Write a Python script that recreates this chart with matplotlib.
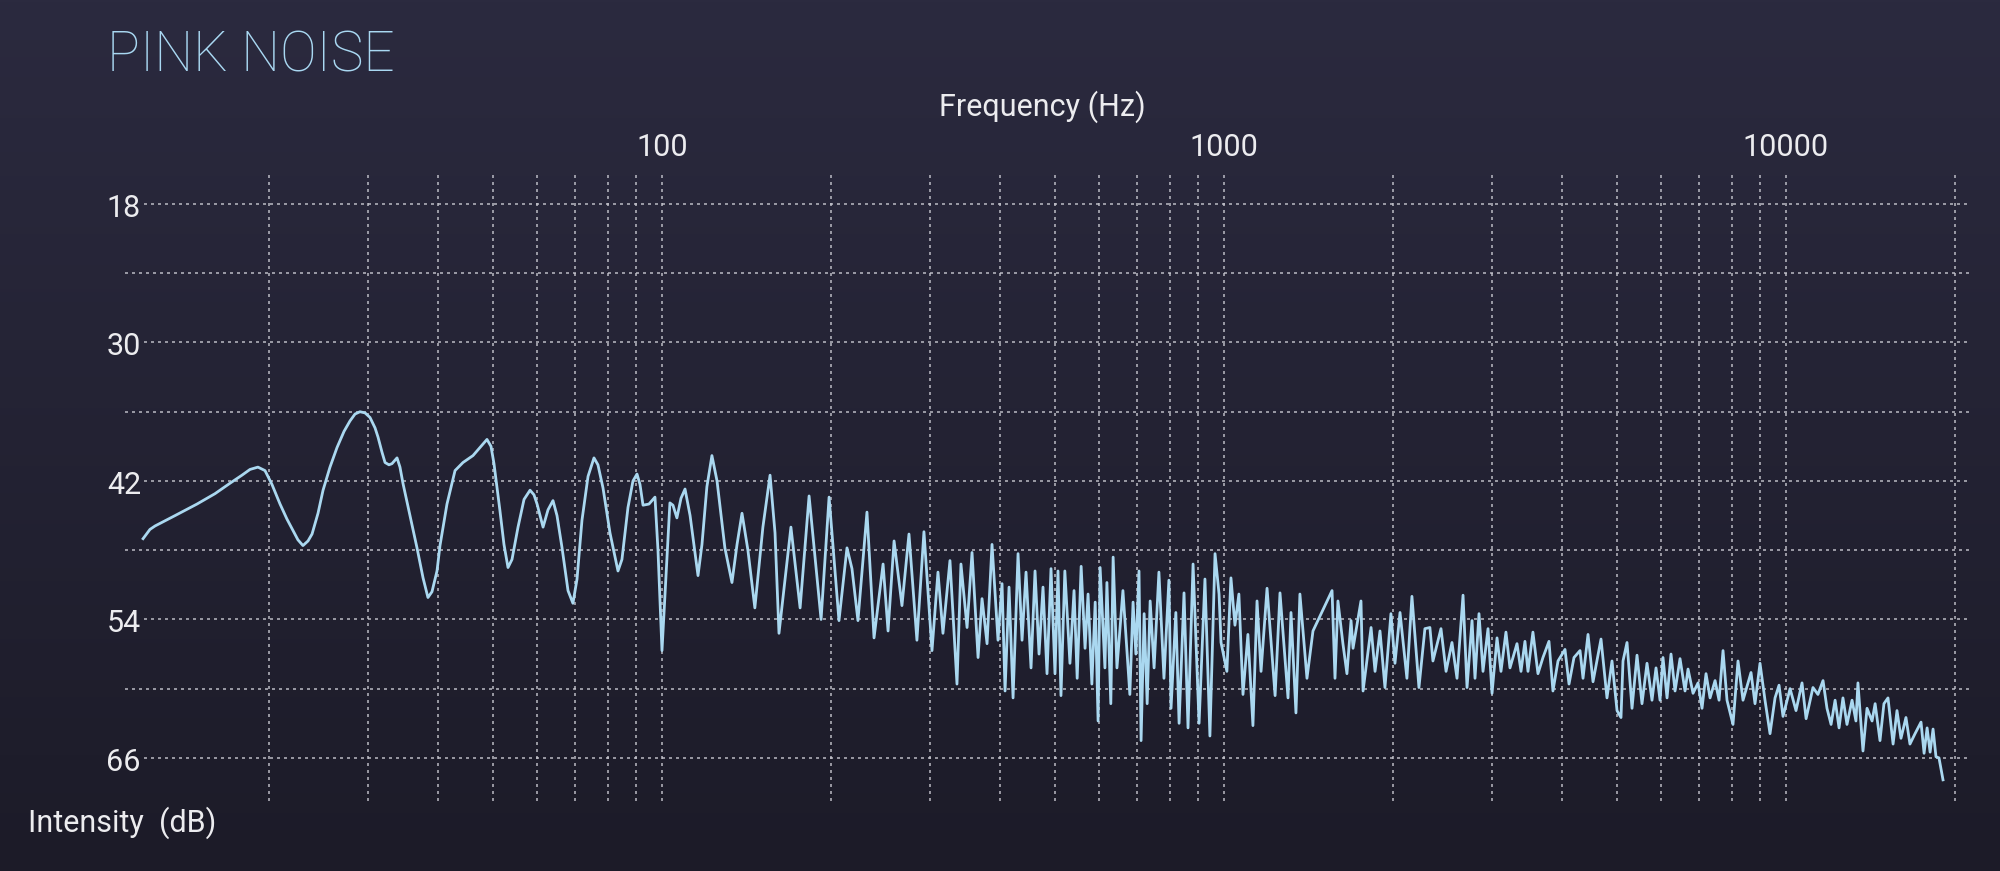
import numpy as np
import matplotlib.pyplot as plt
import matplotlib.transforms as mtransforms
from matplotlib.colors import LinearSegmentedColormap

plt.rcParams['font.family'] = ['Roboto', 'DejaVu Sans']

# spectrum (frequency in Hz, intensity in dB)
freq_hz = [
    11.93, 12.27, 12.53, 13.60, 14.88, 16.02, 17.03, 17.89, 18.49, 19.10,
    19.66, 20.23, 20.91, 21.51, 22.05, 22.50, 22.97, 23.45, 23.84, 24.43,
    24.94, 25.66, 26.41, 27.18, 27.85, 28.43, 29.01, 29.62, 30.23, 30.86,
    31.24, 31.75, 32.15, 32.67, 33.08, 33.77, 34.18, 34.60, 35.61, 36.65,
    37.57, 38.33, 38.97, 39.78, 40.27, 41.44, 42.83, 44.25, 46.10, 47.64,
    48.82, 49.63, 50.24, 51.49, 52.34, 53.21, 54.09, 55.44, 56.82, 58.24,
    59.19, 59.94, 61.43, 62.69, 63.98, 65.04, 66.40, 68.04, 69.43, 70.60,
    72.05, 73.86, 75.68, 76.92, 78.53, 80.81, 83.50, 84.87, 86.99, 88.79,
    90.27, 91.38, 92.52, 94.81, 97.17, 98.37, 100.0, 101.2, 103.3, 104.6,
    106.3, 108.1, 109.9, 112.2, 115.9, 117.8, 120.2, 122.7, 125.3, 129.4,
    133.2, 136.0, 138.8, 142.2, 146.3, 151.2, 155.7, 158.9, 161.5, 169.6,
    176.1, 182.7, 191.9, 198.3, 206.5, 213.4, 217.8, 223.2, 231.6, 238.4,
    247.4, 252.5, 258.8, 267.3, 275.1, 284.2, 292.5, 302.3, 309.8, 316.2,
    325.4, 334.9, 340.4, 349.0, 356.2, 365.1, 371.1, 378.8, 386.6, 396.2,
    402.8, 407.8, 414.5, 421.4, 430.1, 437.2, 444.4, 453.6, 461.1, 468.7,
    476.4, 484.3, 492.3, 500.4, 506.6, 512.8, 521, 532, 541, 548,
    557, 566, 573, 582, 590, 597, 602, 614, 619, 629,
    635, 645, 661, 680, 689, 697, 706, 712, 721, 730,
    739, 751, 766, 782, 798, 805, 821, 832, 849, 863,
    881, 903, 925, 944, 964, 980, 988, 1012, 1029, 1046,
    1063, 1081, 1103, 1126, 1145, 1164, 1193, 1233, 1258, 1300,
    1316, 1343, 1365, 1405, 1440, 1557, 1576, 1595, 1628, 1655,
    1683, 1697, 1753, 1768, 1827, 1857, 1895, 1934, 1982, 2015,
    2057, 2116, 2160, 2223, 2278, 2325, 2354, 2433, 2484, 2545,
    2598, 2663, 2707, 2763, 2797, 2843, 2890, 2950, 2999, 3061,
    3111, 3175, 3228, 3322, 3377, 3432, 3475, 3546, 3620, 3695,
    3787, 3849, 3930, 4044, 4111, 4196, 4301, 4354, 4444, 4536,
    4687, 4803, 4903, 5005, 5087, 5129, 5214, 5322, 5432, 5544,
    5659, 5776, 5872, 5969, 6042, 6143, 6244, 6348, 6479, 6613,
    6695, 6834, 6975, 7090, 7207, 7327, 7479, 7602, 7727, 7854,
    8049, 8216, 8386, 8666, 8809, 8991, 9177, 9368, 9562, 9720,
    9880, 10170, 10420, 10680, 10860, 11170, 11400, 11640, 11830, 12030,
    12230, 12430, 12630, 12840, 13110, 13320, 13430, 13710, 13940, 14230,
    14410, 14700, 14940, 15190, 15510, 15760, 16020, 16350, 16620, 16970,
    17390, 17610, 17830, 18050, 18270, 18490, 18720, 19030,
]
level_db = [
    47.0, 46.2, 45.9, 45.0, 44.0, 43.1, 42.2, 41.5, 41.0, 40.8,
    41.1, 42.3, 44.0, 45.3, 46.3, 47.1, 47.6, 47.2, 46.6, 44.8,
    42.8, 40.8, 39.1, 37.7, 36.8, 36.2, 36.0, 36.1, 36.5, 37.4,
    38.2, 39.5, 40.4, 40.6, 40.5, 40.0, 40.8, 42.2, 45.0, 47.8,
    50.4, 52.1, 51.6, 49.8, 47.6, 44.0, 41.1, 40.4, 39.8, 39.0,
    38.4, 39.0, 40.5, 44.6, 47.5, 49.5, 48.8, 46.0, 43.6, 42.8,
    43.2, 44.0, 46.0, 44.5, 43.7, 45.0, 47.8, 51.5, 52.6, 50.5,
    45.4, 41.6, 40.0, 40.6, 42.6, 46.5, 49.8, 48.8, 44.3, 42.0,
    41.4, 42.3, 44.1, 44.0, 43.4, 48.0, 56.7, 52.0, 43.9, 44.1,
    45.2, 43.5, 42.7, 45.0, 50.2, 47.5, 42.5, 39.8, 42.0, 47.8,
    50.8, 47.5, 44.8, 48.0, 53.0, 46.0, 41.5, 46.5, 55.2, 46.0,
    53.0, 43.3, 54.0, 43.4, 54.1, 47.8, 49.6, 54.1, 44.7, 55.6,
    49.2, 55.0, 47.2, 52.8, 46.6, 55.8, 46.4, 56.7, 49.9, 55.2,
    48.9, 59.6, 49.2, 54.7, 48.2, 57.3, 52.2, 56.1, 47.5, 55.8,
    50.9, 60.2, 51.2, 60.8, 48.3, 55.8, 49.9, 58.2, 49.8, 57.0,
    51.2, 58.7, 49.6, 58.7, 49.8, 60.6, 49.8, 57.8, 51.5, 59.1,
    49.4, 56.5, 51.8, 59.6, 52.5, 62.8, 49.5, 58.2, 50.8, 61.3,
    48.6, 58.2, 51.5, 60.5, 52.5, 57.0, 49.8, 64.5, 53.5, 61.3,
    52.4, 58.2, 49.9, 59.1, 50.6, 61.7, 53.4, 63.0, 51.7, 63.4,
    49.2, 63.0, 50.5, 64.1, 48.3, 51.8, 56.0, 58.5, 50.4, 54.5,
    51.8, 60.5, 55.3, 63.2, 52.4, 58.5, 51.3, 60.6, 51.7, 60.8,
    53.4, 62.1, 51.8, 59.1, 55.0, 51.5, 59.1, 52.4, 56.1, 58.7,
    54.1, 56.5, 52.4, 60.2, 54.7, 58.5, 55.0, 59.9, 53.5, 57.8,
    53.4, 59.1, 52.0, 59.9, 54.8, 54.7, 57.6, 54.8, 58.5, 56.0,
    59.1, 51.9, 59.9, 54.1, 59.1, 53.5, 58.5, 54.8, 60.4, 55.6,
    58.5, 55.1, 58.2, 56.1, 58.5, 55.9, 58.5, 55.1, 58.7, 57.3,
    55.9, 60.2, 57.6, 56.6, 59.6, 57.3, 56.7, 59.1, 55.3, 59.4,
    55.7, 60.8, 57.6, 61.9, 62.5, 57.6, 56.0, 61.7, 57.1, 61.3,
    57.8, 61.0, 58.2, 61.0, 57.3, 60.8, 57.0, 60.2, 57.4, 60.2,
    58.3, 60.4, 59.5, 61.7, 58.7, 60.8, 59.3, 61.0, 56.7, 61.0,
    63.1, 57.6, 61.0, 58.6, 61.3, 57.8, 61.0, 63.9, 60.8, 59.7,
    62.4, 60.0, 61.9, 59.5, 62.6, 59.9, 60.5, 59.3, 61.7, 63.1,
    61.0, 63.4, 60.8, 63.1, 61.0, 62.8, 59.5, 65.4, 61.7, 62.8,
    61.3, 64.5, 61.3, 60.8, 64.8, 61.9, 64.3, 62.5, 64.8, 63.9,
    62.9, 65.6, 63.4, 65.5, 63.5, 65.9, 66.0, 67.9,
]

db_labels = [18, 30, 42, 54, 66]
db_grid = [18, 24, 30, 36, 42, 48, 54, 60, 66]
freq_labels = [100, 1000, 10000]
freq_grid = [20, 30, 40, 50, 60, 70, 80, 90,
             100, 200, 300, 400, 500, 600, 700, 800, 900,
             1000, 2000, 3000, 4000, 5000, 6000, 7000, 8000, 9000,
             10000, 20000]

TITLE_COLOR = '#a9d8f2'
LINE_COLOR = '#aad8f0'
GRID_COLOR = '#c8c8d0'
TEXT_COLOR = '#ececef'
TICK_SIZE = 22

fig = plt.figure(figsize=(20, 8.71), dpi=100)

# dark gradient backdrop
bg = fig.add_axes([0, 0, 1, 1], zorder=0)
bg_cmap = LinearSegmentedColormap.from_list('bg', ['#1c1b28', '#2b2a3f'])
bg.imshow(np.linspace(0, 1, 256).reshape(-1, 1), cmap=bg_cmap, origin='lower',
          aspect='auto', extent=[0, 1, 0, 1])
bg.axis('off')

ax = fig.add_axes([0.05, 0.0636, 0.9392, 0.7684], zorder=1)
ax.set_xscale('log')
ax.set_xlim(10, 22000)
ax.set_ylim(71, 13)
ax.patch.set_alpha(0)
for s in ax.spines.values():
    s.set_visible(False)
ax.tick_params(which='both', length=0, labelbottom=False, labelleft=False)

# dotted grid, drawn by hand so the lines can stop short like the original
dot = (0, (1.8, 2.4))
for db in db_grid:
    x0 = 12.0 if db in db_labels else 11.1
    ax.plot([x0, 21200], [db, db], color=GRID_COLOR, lw=1.2, ls=dot,
            alpha=0.85, zorder=1)
for f in freq_grid:
    ax.plot([f, f], [15.5, 69.8], color=GRID_COLOR, lw=1.2, ls=dot,
            alpha=0.85, zorder=1)

ax.plot(freq_hz, level_db, color=LINE_COLOR, lw=2.0, zorder=3,
        solid_joinstyle='round')

# frequency labels along the top
top_tr = mtransforms.blended_transform_factory(ax.transData, fig.transFigure)
for f in freq_labels:
    ax.text(f, 1 - 156 / 871, str(f), transform=top_tr, ha='center',
            va='baseline', fontsize=TICK_SIZE, color=TEXT_COLOR)

# intensity labels on the left
left_tr = mtransforms.blended_transform_factory(fig.transFigure, ax.transData)
left_tr = mtransforms.offset_copy(left_tr, fig=fig, y=-13, units='dots')
for db in db_labels:
    ax.text(141 / 2000, db, str(db), transform=left_tr, ha='right',
            va='baseline', fontsize=TICK_SIZE, color=TEXT_COLOR)

fig.text(107 / 2000, 1 - 72 / 871, 'PINK NOISE', fontsize=39.5,
         fontweight='light', color=TITLE_COLOR, ha='left', va='baseline')
fig.text(1042 / 2000, 1 - 116 / 871, 'Frequency (Hz)', fontsize=TICK_SIZE,
         color=TEXT_COLOR, ha='center', va='baseline')
fig.text(28 / 2000, 1 - 832 / 871, 'Intensity  (dB)', fontsize=TICK_SIZE,
         color=TEXT_COLOR, ha='left', va='baseline')

fig.savefig('out.png', dpi=100)
